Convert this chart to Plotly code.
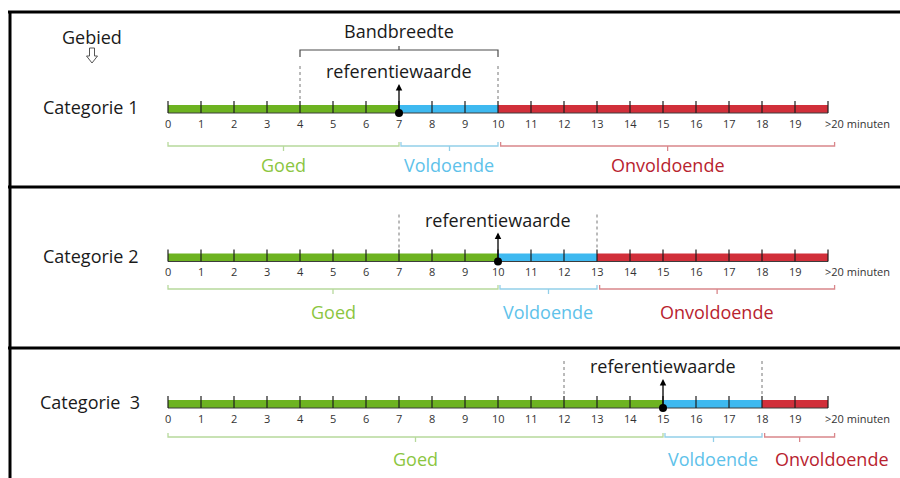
import plotly.graph_objects as go

# ---------------- data ----------------
categories = ["Categorie 1", "Categorie 2", "Categorie\u00a0\u00a03"]
ref_values = [7, 10, 15]          # referentiewaarde (minutes)
band_low = [4, 7, 12]             # lower edge of bandbreedte
band_high = [10, 13, 18]          # upper edge of bandbreedte
max_minutes = 20
tick_values = list(range(0, 21))
tick_labels = [str(i) for i in range(20)] + [">20 minuten"]
zone_names = ["Goed", "Voldoende", "Onvoldoende"]

# ---------------- layout constants ----------------
W, H = 900, 478
X0_PX, PX_PER_MIN = 168, 33
row_center = [109, 257.5, 404]
brace_y = [146, 289, 437]
label_y = [165, 312, 459]
label_shift = [[0, 0, 0], [0, 0, 0], [0, 0, 32]]
FONT = "Open Sans"
bar_colors = ["#6db321", "#3eb9f0", "#d12f3a"]
brace_colors = ["#b7d99c", "#93cfe9", "#d9868b"]
label_colors = ["#8cc63f", "#5ec2ea", "#b8232f"]


def px2x(px):
    return (px - X0_PX) / PX_PER_MIN


fig = go.Figure()

# zone bars
zone_bases = [[0] * 3, ref_values, band_high]
zone_lengths = [
    ref_values,
    [h - r for h, r in zip(band_high, ref_values)],
    [max_minutes - h for h in band_high],
]
for z in range(3):
    fig.add_trace(go.Bar(
        y=row_center, x=zone_lengths[z], base=zone_bases[z], orientation="h",
        width=8, marker=dict(color=bar_colors[z], line_width=0),
        hoverinfo="skip", showlegend=False))

# baseline + tick marks
bx, by, tx, ty = [], [], [], []
for c in row_center:
    bx += [0, max_minutes, None]
    by += [c + 4, c + 4, None]
    for t in tick_values:
        tx += [t, t, None]
        ty += [c - 8, c + 4, None]
fig.add_trace(go.Scatter(x=bx, y=by, mode="lines", line=dict(color="#3c3c3c", width=1),
                         hoverinfo="skip", showlegend=False))
fig.add_trace(go.Scatter(x=tx, y=ty, mode="lines", line=dict(color="#1e1e1e", width=1.2),
                         hoverinfo="skip", showlegend=False))

# dotted bandbreedte lines
dx, dy = [], []
for c, lo, hi in zip(row_center, band_low, band_high):
    for v in (lo, hi):
        dx += [v, v, None]
        dy += [c - 4, c - 44, None]
fig.add_trace(go.Scatter(x=dx, y=dy, mode="lines",
                         line=dict(color="#777777", width=1, dash="dot"),
                         hoverinfo="skip", showlegend=False))

annotations = []

# braces under the bars
for r, c in enumerate(row_center):
    spans = [(0, ref_values[r]),
             (ref_values[r] + 0.06, band_high[r]),
             (band_high[r] + 0.08, max_minutes + 0.2)]
    y = brace_y[r]
    for z, (a, b) in enumerate(spans):
        mid = (a + b) / 2
        fig.add_trace(go.Scatter(
            x=[a, a, b, b, None, mid, mid],
            y=[y - 4, y, y, y - 4, None, y, y + 5],
            mode="lines", line=dict(color=brace_colors[z], width=1.3),
            hoverinfo="skip", showlegend=False))
        annotations.append(dict(
            x=mid, y=label_y[r], text=zone_names[z], showarrow=False,
            xshift=label_shift[r][z], xanchor="center", yanchor="middle",
            font=dict(family=FONT, size=18, color=label_colors[z])))

# bandbreedte brace (category 1)
bl, bh = band_low[0], band_high[0]
bm = (bl + bh) / 2
fig.add_trace(go.Scatter(
    x=[bl, bl, bh, bh, None, bm, bm],
    y=[57, 50, 50, 57, None, 50, 46],
    mode="lines", line=dict(color="#4a4a4a", width=1.2),
    hoverinfo="skip", showlegend=False))
annotations.append(dict(x=bm, y=31, text="Bandbreedte", showarrow=False,
                        font=dict(family=FONT, size=18, color="#1a1a1a")))

# reference arrows, dots, texts
fig.add_trace(go.Scatter(x=ref_values, y=[c + 4 for c in row_center], mode="markers",
                         marker=dict(color="black", size=8),
                         hoverinfo="skip", showlegend=False))
for r, c in enumerate(row_center):
    annotations.append(dict(
        x=ref_values[r], y=c - 25, ax=ref_values[r], ay=c + 4,
        xref="x", yref="y", axref="x", ayref="y", text="", showarrow=True,
        arrowhead=2, arrowsize=1, arrowwidth=1.3, arrowcolor="black"))
    annotations.append(dict(
        x=ref_values[r], y=c - 38, text="referentiewaarde", showarrow=False,
        font=dict(family=FONT, size=18, color="#1a1a1a")))
    annotations.append(dict(
        x=px2x(90), y=c - 2, text=categories[r], showarrow=False,
        font=dict(family=FONT, size=18, color="#1a1a1a")))
    # tick labels
    for t, lab in zip(tick_values, tick_labels):
        last = lab.startswith(">")
        annotations.append(dict(
            x=t, y=c + 14, text=lab, showarrow=False,
            xanchor="left" if last else "center", xshift=-5 if last else 0,
            font=dict(family=FONT, size=11, color="#333333")))

annotations.append(dict(x=px2x(92), y=37, text="Gebied", showarrow=False,
                        font=dict(family=FONT, size=18, color="#1a1a1a")))

# hollow down arrow under "Gebied"
ax_c = 92
pts = [(ax_c - 2.5, 48), (ax_c + 2.5, 48), (ax_c + 2.5, 56), (ax_c + 5.5, 56),
       (ax_c, 63), (ax_c - 5.5, 56), (ax_c - 2.5, 56)]
arrow_path = "M " + " L ".join(f"{px2x(px):.4f},{py}" for px, py in pts) + " Z"

# panel borders
shapes = [dict(type="path", xref="x", yref="y", path=arrow_path,
               line=dict(color="#555555", width=1), fillcolor="white")]
for yb in (12, 187, 348):
    shapes.append(dict(type="line", xref="x", yref="y", x0=px2x(8), x1=px2x(900),
                       y0=yb, y1=yb, line=dict(color="black", width=3)))
shapes.append(dict(type="line", xref="x", yref="y", x0=px2x(10), x1=px2x(10),
                   y0=11, y1=H, line=dict(color="black", width=3)))

fig.update_layout(
    width=W, height=H, margin=dict(l=0, r=0, t=0, b=0),
    paper_bgcolor="white", plot_bgcolor="white", barmode="overlay",
    xaxis=dict(range=[px2x(0), px2x(W)], visible=False, fixedrange=True),
    yaxis=dict(range=[H, 0], visible=False, fixedrange=True),
    annotations=annotations, shapes=shapes, showlegend=False)

fig.write_html("out.html", config={"displayModeBar": False},
               post_script="document.body.style.margin='0';")
